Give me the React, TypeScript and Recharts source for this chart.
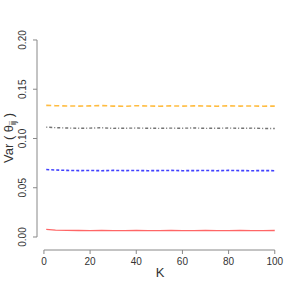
import { LineChart, Line, XAxis, YAxis, ReferenceLine } from "recharts";

// K values along the x axis
const kValues = [1, 5, 10, 15, 20, 25, 30, 35, 40, 45, 50, 55, 60, 65, 70, 75, 80, 85, 90, 95, 100];

// Var(theta_ij) for each series
const orangeVar = [0.1336, 0.1333, 0.1330, 0.1329, 0.1331, 0.1334, 0.1329, 0.1327, 0.1333, 0.1330, 0.1328, 0.1331, 0.1329, 0.1331, 0.1330, 0.1328, 0.1331, 0.1329, 0.1330, 0.1328, 0.1329];
const grayVar = [0.1115, 0.1110, 0.1106, 0.1104, 0.1105, 0.1109, 0.1103, 0.1104, 0.1106, 0.1104, 0.1103, 0.1105, 0.1104, 0.1107, 0.1103, 0.1104, 0.1106, 0.1103, 0.1105, 0.1102, 0.1101];
const blueVar = [0.0685, 0.0680, 0.0676, 0.0674, 0.0675, 0.0673, 0.0676, 0.0674, 0.0675, 0.0673, 0.0674, 0.0676, 0.0673, 0.0674, 0.0675, 0.0673, 0.0676, 0.0674, 0.0673, 0.0674, 0.0673];
const redVar = [0.0078, 0.0070, 0.0067, 0.0066, 0.0065, 0.0066, 0.0065, 0.0065, 0.0066, 0.0065, 0.0065, 0.0066, 0.0065, 0.0065, 0.0066, 0.0065, 0.0065, 0.0066, 0.0065, 0.0065, 0.0066];

const xTicks = [0, 20, 40, 60, 80, 100];
const yTicks = [0, 0.05, 0.1, 0.15, 0.2];

const data = kValues.map((k, i) => ({
  k,
  orange: orangeVar[i],
  gray: grayVar[i],
  blue: blueVar[i],
  red: redVar[i],
}));

const textColor = "#333";
const axisColor = "#888";
const font = "Liberation Sans, Arial, sans-serif";

const YTick = ({ x, y, payload }: any) => (
  <text
    x={x - 5}
    y={y}
    transform={`rotate(-90 ${x - 5} ${y})`}
    textAnchor="middle"
    fontSize={10}
    fill={textColor}
    fontFamily={font}
  >
    {payload.value.toFixed(2)}
  </text>
);

const XTick = ({ x, y, payload }: any) => (
  <text x={x} y={y + 9} textAnchor="middle" fontSize={10} fill={textColor} fontFamily={font}>
    {payload.value}
  </text>
);

export default function App() {
  return (
    <div style={{ position: "absolute", left: 0, top: 0, width: 287, height: 287, background: "#fff" }}>
      <LineChart width={287} height={287} data={data} margin={{ top: 32, right: 3, bottom: 0, left: 0 }}>
        <XAxis
          dataKey="k"
          type="number"
          domain={[-3, 104]}
          ticks={xTicks}
          axisLine={false}
          tickLine={{ stroke: axisColor }}
          tickSize={4}
          tick={<XTick />}
          height={37}
          label={{
            content: () => (
              <text x={160} y={277} textAnchor="middle" fontSize={13} fill={textColor} fontFamily={font}>
                K
              </text>
            ),
          }}
        />
        <YAxis
          type="number"
          domain={[-0.0132, 0.2081]}
          ticks={yTicks}
          axisLine={false}
          tickLine={{ stroke: axisColor }}
          tickSize={4}
          tick={<YTick />}
          width={37}
          label={{
            content: () => (
              <text
                x={13}
                y={138}
                transform="rotate(-90 13 138)"
                textAnchor="middle"
                fontSize={13}
                fill={textColor}
                fontFamily={font}
              >
                Var ( θ
                <tspan fontSize={9} dy={3}>ij</tspan>
                <tspan dy={-3}> )</tspan>
              </text>
            ),
          }}
        />
        <ReferenceLine
          segment={[{ x: -3, y: 0 }, { x: -3, y: 0.2 }]}
          stroke={axisColor}
          ifOverflow="visible"
        />
        <ReferenceLine
          segment={[{ x: 0, y: -0.0132 }, { x: 100, y: -0.0132 }]}
          stroke={axisColor}
          ifOverflow="visible"
        />
        <Line dataKey="orange" stroke="#FFA500" strokeOpacity={0.75} strokeWidth={1.6} strokeDasharray="5 3" dot={false} isAnimationActive={false} />
        <Line dataKey="gray" stroke="#444" strokeOpacity={0.75} strokeWidth={1.4} strokeDasharray="1 2 3 2" dot={false} isAnimationActive={false} />
        <Line dataKey="blue" stroke="#0000FF" strokeOpacity={0.75} strokeWidth={1.6} strokeDasharray="3 2" dot={false} isAnimationActive={false} />
        <Line dataKey="red" stroke="#FF0000" strokeOpacity={0.6} strokeWidth={1.3} dot={false} isAnimationActive={false} />
      </LineChart>
    </div>
  );
}
